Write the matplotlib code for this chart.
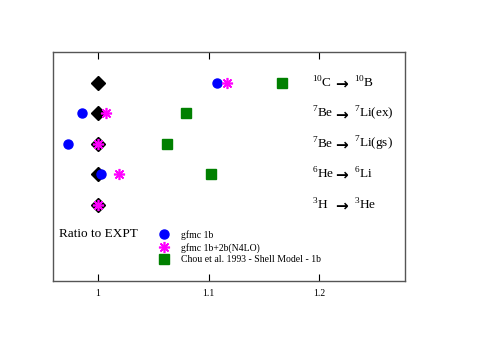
import matplotlib
matplotlib.use("Agg")
import matplotlib.pyplot as plt
from matplotlib.transforms import blended_transform_factory

plt.rcParams['font.family'] = ['Liberation Serif', 'DejaVu Serif']
plt.rcParams['mathtext.fontset'] = 'custom'
plt.rcParams['mathtext.rm'] = 'Liberation Serif'

# transitions, top to bottom
parent = ["$^{10}$C", "$^{7}$Be", "$^{7}$Be", "$^{6}$He", "$^{3}$H"]
daughter = ["$^{10}$B", "$^{7}$Li(ex)", "$^{7}$Li(gs)", "$^{6}$Li", "$^{3}$He"]
rows = [5, 4, 3, 2, 1]

# ratios to experiment
expt = [1.0, 1.0, 1.0, 1.0, 1.0]
gfmc_1b = [1.108, 0.9856, 0.9735, 1.0027]           # no 3H point
gfmc_1b_rows = [5, 4, 3, 2]
gfmc_2b = [1.117, 1.0078, 1.0, 1.0195, 1.0]
shell_1b = [1.166, 1.0797, 1.0628, 1.102]
shell_rows = [5, 4, 3, 2]

xticks = [1.0, 1.1, 1.2]
xticklabels = ["1", "1.1", "1.2"]

fig = plt.figure(figsize=(4.85, 3.42), dpi=100)
ax = fig.add_axes([0.1087, 0.1784, 0.7264, 0.6687])

ax.plot(expt, rows, 'D', color='black', ms=6.8, ls='none', zorder=2)
ax.plot(gfmc_1b, gfmc_1b_rows, 'o', color='blue', ms=6.5, ls='none',
        zorder=3, label='gfmc 1b')
ax.plot(gfmc_2b, rows, marker=(8, 2, 0), color='magenta', mec='magenta',
        ms=8, mew=1.2, ls='none', zorder=4, label='gfmc 1b+2b(N4LO)')
ax.plot(shell_1b, shell_rows, 's', color='green', ms=7, ls='none',
        zorder=3, label='Chou et al. 1993 - Shell Model - 1b')

ax.set_xlim(0.9594, 1.2773)
ax.set_ylim(-1.5, 6.0)
ax.set_yticks([])
ax.set_xticks(xticks)
ax.set_xticklabels(xticklabels, fontsize=7)
ax.tick_params(axis='x', direction='in', length=5, width=0.8,
               top=True, bottom=True, pad=6)
for sp in ax.spines.values():
    sp.set_color('#555555')
    sp.set_linewidth(1.0)

trans = blended_transform_factory(ax.transAxes, ax.transData)
for p, d, y in zip(parent, daughter, rows):
    ax.text(0.736, y, p, transform=trans, fontsize=9.5, va='center', ha='left')
    ax.text(0.803, y - 0.04, "\u2192", transform=trans, fontsize=11,
            va='center', ha='left', family='DejaVu Sans', fontweight='bold')
    ax.text(0.855, y, d, transform=trans, fontsize=9.5, va='center', ha='left')

ax.text(0.018, 0.05, "Ratio to EXPT", transform=trans, fontsize=9.5,
        va='center', ha='left')

ax.legend(loc='upper left', bbox_to_anchor=(0.29, 0.24), frameon=False,
          fontsize=7, handlelength=1.0, handletextpad=1.3,
          labelspacing=0.3, borderaxespad=0.0)

fig.savefig("out.png", dpi=100)
